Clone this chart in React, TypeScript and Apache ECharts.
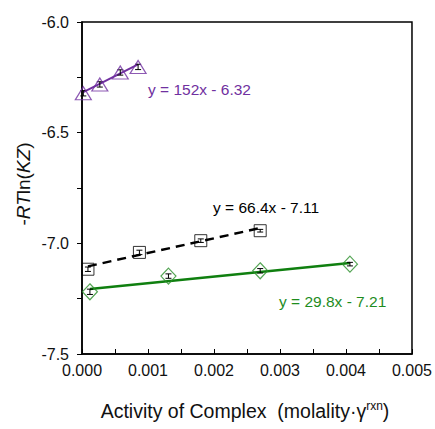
import React, { useEffect, useRef } from "react";
import * as echarts from "echarts";

// [activity, -RTln(KZ), error]
const purplePoints: number[][] = [
  [0.00002, -6.322, 0.012],
  [0.00027, -6.282, 0.012],
  [0.00058, -6.228, 0.012],
  [0.00085, -6.203, 0.012],
];
const blackPoints: number[][] = [
  [0.00009, -7.117, 0.01],
  [0.00087, -7.041, 0.01],
  [0.0018, -6.988, 0.008],
  [0.0027, -6.943, 0.006],
];
const greenPoints: number[][] = [
  [0.00012, -7.219, 0.012],
  [0.00131, -7.148, 0.01],
  [0.0027, -7.124, 0.01],
  [0.00406, -7.094, 0.008],
];
const purpleFit: number[][] = [
  [0.00002, -6.317],
  [0.00085, -6.191],
];
const blackFit: number[][] = [
  [0.00009, -7.104],
  [0.0027, -6.931],
];
const greenFit: number[][] = [
  [0.00012, -7.206],
  [0.00406, -7.089],
];
const fitLabels = ["y = 152x - 6.32", "y = 66.4x - 7.11", "y = 29.8x - 7.21"];

const PURPLE = "#7030A0";
const GREEN_LINE = "#0F7F0F";
const GREEN_TEXT = "#1E8C1E";
const FONT = "Liberation Sans, Arial, sans-serif";

function errorSeries(data: number[][]) {
  return {
    type: "custom",
    silent: true,
    z: 4,
    renderItem: (params: any, api: any) => {
      const x = api.value(0);
      const y = api.value(1);
      const e = api.value(2);
      const top = api.coord([x, y + e]);
      const bot = api.coord([x, y - e]);
      const cap = 3;
      return {
        type: "group",
        children: [
          { type: "line", shape: { x1: top[0], y1: top[1], x2: bot[0], y2: bot[1] }, style: { stroke: "#000", lineWidth: 1 } },
          { type: "line", shape: { x1: top[0] - cap, y1: top[1], x2: top[0] + cap, y2: top[1] }, style: { stroke: "#000", lineWidth: 1 } },
          { type: "line", shape: { x1: bot[0] - cap, y1: bot[1], x2: bot[0] + cap, y2: bot[1] }, style: { stroke: "#000", lineWidth: 1 } },
        ],
      };
    },
    data,
  };
}

export default function App() {
  const ref = useRef<HTMLDivElement>(null);
  useEffect(() => {
    if (!ref.current) return;
    const chart = echarts.init(ref.current, undefined, { renderer: "svg" });
    const axisLabel = { color: "#111", fontSize: 16, fontFamily: FONT };
    chart.setOption({
      animation: false,
      backgroundColor: "#fff",
      grid: { left: 82, top: 22, width: 330, height: 332, show: true, borderColor: "#000", borderWidth: 1.5 },
      xAxis: {
        type: "value",
        min: 0,
        max: 0.005,
        interval: 0.001,
        axisLine: { lineStyle: { color: "#000", width: 1.5 } },
        axisTick: { inside: true, length: 5, lineStyle: { color: "#000" } },
        minorTick: { show: true, splitNumber: 2, length: 5, lineStyle: { color: "#000" } },
        splitLine: { show: false },
        axisLabel: { ...axisLabel, margin: 8, formatter: (v: number) => v.toFixed(3) },
      },
      yAxis: {
        type: "value",
        min: -7.5,
        max: -6.0,
        interval: 0.5,
        axisLine: { show: true, lineStyle: { color: "#000", width: 1.5 } },
        axisTick: { show: true, inside: false, length: 5, lineStyle: { color: "#000" } },
        minorTick: { show: true, splitNumber: 2, length: 5, lineStyle: { color: "#000" } },
        splitLine: { show: false },
        axisLabel: { ...axisLabel, margin: 13, formatter: (v: number) => v.toFixed(1) },
      },
      series: [
        { type: "line", data: purpleFit, symbol: "none", lineStyle: { color: PURPLE, width: 2 }, z: 3 },
        { type: "line", data: blackFit, symbol: "none", lineStyle: { color: "#000", width: 2.5, type: [9, 6] }, z: 3 },
        { type: "line", data: greenFit, symbol: "none", lineStyle: { color: GREEN_LINE, width: 2.5 }, z: 3 },
        {
          type: "scatter",
          data: purplePoints.map((p) => [p[0], p[1]]),
          symbol: "triangle",
          symbolSize: [16, 13],
          itemStyle: { color: "rgba(255,255,255,0)", borderColor: PURPLE, borderWidth: 1.2 },
          z: 5,
        },
        {
          type: "scatter",
          data: blackPoints.map((p) => [p[0], p[1]]),
          symbol: "rect",
          symbolSize: 12,
          itemStyle: { color: "rgba(255,255,255,0)", borderColor: "#000", borderWidth: 1 },
          z: 5,
        },
        {
          type: "scatter",
          data: greenPoints.map((p) => [p[0], p[1]]),
          symbol: "diamond",
          symbolSize: [15, 16],
          itemStyle: { color: "rgba(255,255,255,0)", borderColor: "#2A8F2A", borderWidth: 1.2 },
          z: 5,
        },
        errorSeries(purplePoints),
        errorSeries(blackPoints),
        errorSeries(greenPoints),
      ],
      graphic: [
        { type: "text", left: 148, top: 81, style: { text: fitLabels[0], fill: PURPLE, fontSize: 15.5, fontFamily: FONT } },
        { type: "text", left: 213, top: 199, style: { text: fitLabels[1], fill: "#000", fontSize: 15.5, fontFamily: FONT } },
        { type: "text", left: 279, top: 293, style: { text: fitLabels[2], fill: GREEN_TEXT, fontSize: 15.5, fontFamily: FONT } },
        {
          type: "text",
          x: 23,
          y: 184,
          rotation: Math.PI / 2,
          style: {
            text: "-{i|RT}ln({i|KZ})",
            align: "center",
            verticalAlign: "middle",
            fill: "#111",
            fontSize: 19,
            fontFamily: FONT,
            rich: { i: { fontStyle: "italic", fontSize: 19, fontFamily: FONT, fill: "#111" } },
          },
        },
        {
          type: "text",
          x: 245,
          y: 411,
          style: {
            text: "Activity of Complex  (molality·γ{s|rxn})",
            align: "center",
            verticalAlign: "middle",
            fill: "#111",
            fontSize: 19.5,
            fontFamily: FONT,
            rich: { s: { fontSize: 12, verticalAlign: "top", padding: [0, 0, 10, 0], fontFamily: FONT, fill: "#111" } },
          },
        },
      ],
    });
    return () => chart.dispose();
  }, []);
  return <div ref={ref} style={{ position: "fixed", left: 0, top: 0, width: 435, height: 429 }} />;
}
